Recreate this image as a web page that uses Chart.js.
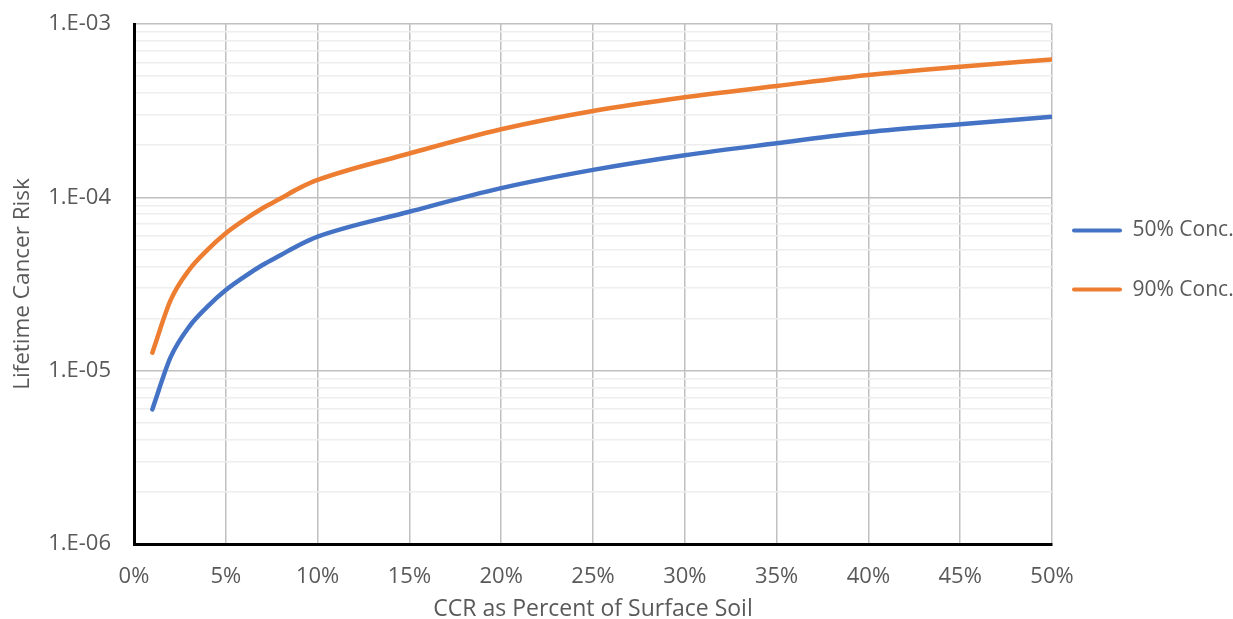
<!DOCTYPE html>
<html>
<head>
<meta charset="utf-8">
<script src="https://cdn.jsdelivr.net/npm/chart.js@4/dist/chart.umd.min.js"></script>
<style>
  html, body { margin: 0; padding: 0; background: #ffffff; }
  #wrap { width: 1233px; height: 619px; }
</style>
</head>
<body>
<div id="wrap"><canvas id="chart" width="1233" height="619"></canvas></div>
<script>
// CCR content as percent of surface soil
const ccrPercent = [1, 2, 3, 4, 5, 6, 7, 8, 9, 10, 15, 20, 25, 30, 35, 40, 45, 50];

// Lifetime cancer risk at the 50% and 90% concentrations
const risk50 = [5.98e-6, 1.20e-5, 1.79e-5, 2.34e-5, 2.92e-5, 3.48e-5, 4.07e-5, 4.65e-5, 5.31e-5, 5.93e-5,
                8.26e-5, 1.13e-4, 1.44e-4, 1.75e-4, 2.05e-4, 2.38e-4, 2.64e-4, 2.92e-4];
const risk90 = [1.27e-5, 2.56e-5, 3.81e-5, 4.97e-5, 6.20e-5, 7.40e-5, 8.65e-5, 9.87e-5, 1.13e-4, 1.26e-4,
                1.79e-4, 2.47e-4, 3.15e-4, 3.78e-4, 4.39e-4, 5.08e-4, 5.67e-4, 6.25e-4];

const seriesNames = ['50% Conc.', '90% Conc.'];
const seriesColors = ['#4472C4', '#ED7D31'];

// Axis ticks
const xTickValues = [0, 5, 10, 15, 20, 25, 30, 35, 40, 45, 50];
const yDecades = [1e-6, 1e-5, 1e-4, 1e-3];
const yMinorMultipliers = [2, 3, 4, 5, 6, 7, 8, 9];

const TEXT = '#595959';
const isDecade = v => Math.abs(Math.log10(v) - Math.round(Math.log10(v))) < 1e-9;
const decadeLabel = v => '1.E-' + String(-Math.round(Math.log10(v))).padStart(2, '0');

const yTickValues = [];
yDecades.forEach((d, i) => {
  yTickValues.push(d);
  if (i < yDecades.length - 1) yMinorMultipliers.forEach(m => yTickValues.push(m * d));
});

Chart.defaults.font.family = "'Open Sans', 'Noto Sans', sans-serif";
Chart.defaults.font.size = 22;
Chart.defaults.color = TEXT;

new Chart(document.getElementById('chart'), {
  type: 'line',
  data: {
    datasets: [risk50, risk90].map((series, i) => ({
      label: seriesNames[i],
      data: ccrPercent.map((p, j) => ({ x: p, y: series[j] })),
      borderColor: seriesColors[i],
      backgroundColor: seriesColors[i],
      borderWidth: 4.5,
      borderCapStyle: 'round',
      borderJoinStyle: 'round',
      pointRadius: 0,
      pointHoverRadius: 0,
      cubicInterpolationMode: 'monotone',
      fill: false
    }))
  },
  options: {
    responsive: false,
    animation: false,
    devicePixelRatio: 1,
    layout: { padding: { top: 24, left: 0, right: 0, bottom: 0 } },
    plugins: {
      tooltip: { enabled: false },
      legend: {
        position: 'right',
        align: 'start',
        fullSize: false,
        maxWidth: 181,
        // empty heading that only reserves space above the two entries
        title: { display: true, text: '', padding: { top: 152, bottom: 0 }, font: { size: 20, lineHeight: 1.2 } },
        labels: {
          boxWidth: 50,
          boxHeight: 4,
          padding: 20,
          color: TEXT,
          font: { size: 21, lineHeight: 1.86 },
          generateLabels: chart => chart.data.datasets.map((ds, i) => ({
            text: [ds.label],
            fillStyle: ds.borderColor,
            strokeStyle: ds.borderColor,
            lineWidth: 0,
            borderRadius: 2,
            fontColor: TEXT,
            hidden: false,
            datasetIndex: i
          }))
        }
      }
    },
    scales: {
      x: {
        type: 'linear',
        min: 0,
        max: 50,
        afterBuildTicks: s => { s.ticks = xTickValues.map(v => ({ value: v })); },
        afterFit: s => { s.height = 75; },
        ticks: {
          autoSkip: false,
          maxRotation: 0,
          padding: 20,
          color: TEXT,
          callback: v => v + '%'
        },
        grid: { color: '#c0c0c0', lineWidth: 1.5, drawTicks: false },
        border: { display: true, color: '#000000', width: 3 },
        title: {
          display: true,
          text: 'CCR as Percent of Surface Soil',
          color: TEXT,
          font: { size: 23, lineHeight: 0.85 },
          padding: { top: 0, bottom: 0 }
        }
      },
      y: {
        type: 'logarithmic',
        min: 1e-6,
        max: 1e-3,
        afterBuildTicks: s => { s.ticks = yTickValues.map(v => ({ value: v, major: isDecade(v) })); },
        afterFit: s => { s.width = 134; },
        ticks: {
          autoSkip: false,
          padding: 3,
          color: TEXT,
          callback: v => isDecade(v) ? decadeLabel(v) : ''
        },
        grid: {
          drawTicks: true,
          tickLength: 20,
          tickColor: 'rgba(0,0,0,0)',
          color: c => (c.tick && isDecade(c.tick.value)) ? '#c0c0c0' : '#eeeeee',
          lineWidth: 1.5
        },
        border: { display: true, color: '#000000', width: 3 },
        title: {
          display: true,
          text: 'Lifetime Cancer Risk',
          color: TEXT,
          font: { size: 22.5 },
          padding: { top: 9, bottom: 0 }
        }
      }
    }
  }
});
</script>
</body>
</html>
